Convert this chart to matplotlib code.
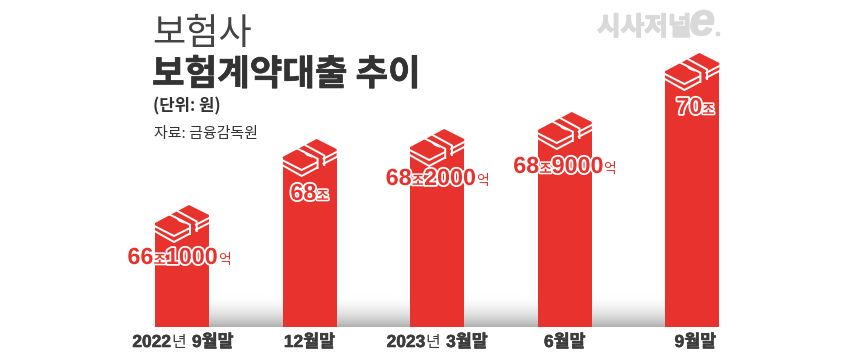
#!/usr/bin/env python3
"""Insurance policy loan balance by quarter, drawn as red bars with money bundles on top."""

import numpy as np
import matplotlib
matplotlib.use("Agg")
import matplotlib.pyplot as plt
import matplotlib.patheffects as pe
from matplotlib.patches import Polygon
from matplotlib.transforms import Affine2D, IdentityTransform

# Data
periods = ["2022년 9월말", "12월말", "2023년 3월말", "6월말", "9월말"]
amounts_jo = ["66", "68", "68", "68", "70"]
amounts_eok = ["1000", "", "2000", "9000", ""]
# The picture's bars are not to a linear scale, so heights are read in pixels
bar_heights = [104, 170, 180, 197, 256]

# Layout
W, H = 860, 355
BASE_Y = 327
BAR_STEP = 127.6
FIRST_X = 182
BAR_W = 54
LABEL_DROP = [35, 37, 32, 37, 37]
LABEL_NUDGE = [-3, 0, 0, 0, 3]
PERIOD_NUDGE = [1, 0, 0, 0, 3]

RED = "#E8322D"
DARK = "#3C3C3C"
KR = ["Noto Sans CJK KR", "DejaVu Sans"]
NUM = ["Liberation Sans", "Noto Sans CJK KR"]


def seg_text(fig, x, y, parts, center=False):
    """Write text pieces one after the other, x and y in picture pixels (y is the baseline)."""
    rend = fig.canvas.get_renderer()
    items = []
    for part in parts:
        color = part.get("color", DARK)
        t = fig.text(0, 0, part["s"], transform=IdentityTransform(), va="baseline",
                     family=part.get("family", NUM), fontsize=part["size"],
                     fontweight=part.get("weight", "bold"), color=color,
                     fontstyle=part.get("style", "normal"), zorder=10)
        if "stroke" in part:
            t.set_path_effects([pe.withStroke(linewidth=part["stroke"], foreground="white")])
        if "fatten" in part:
            t.set_path_effects([pe.withStroke(linewidth=part["fatten"], foreground=color)])
        items.append((t, t.get_window_extent(rend).width + part.get("gap", 0)))
    if center:
        x = x - sum(w for _, w in items) / 2
    for t, w in items:
        t.set_position((x, H - y))
        x += w


def draw_bundle(ax, left_px, top_px):
    """Money bundle on top of a bar; shape is in pixels from the bar's top left corner."""
    tr = Affine2D().translate(left_px, top_px)
    ax.add_patch(Polygon([(0, 0), (34, 18), (54, 8), (54, -1), (0, -1)], closed=True,
                         fc=RED, ec="none", transform=tr, zorder=4))
    lines = [
        [(0, -3.3), (19, -13), (34, -5.5)],
        [(0, -8.3), (19, -19), (34, -11)],
        [(41, -1.7), (54, 5)],
        [(41, -6.7), (54, 0)],
        [(15, 8.3), (35, -1.7), (35, -11)],
        [(23, 11.7), (41.7, 1.5), (41.7, -8)],
    ]
    for pts in lines:
        xs, ys = zip(*pts)
        ax.plot(xs, ys, color="white", lw=1.4, solid_joinstyle="miter",
                transform=tr, zorder=5)
    ax.add_patch(Polygon([(16, 7), (21, 4.5), (24, 1.5), (30, -1), (26, 3.5), (20, 6.5)],
                         closed=True, fc="white", ec="none", transform=tr, zorder=5))


def main():
    fig = plt.figure(figsize=(W / 100, H / 100), dpi=100)
    ax = fig.add_axes([0, 0, 1, 1])
    ax.axis("off")

    xpos = np.arange(len(bar_heights))

    # grey floor shadow between the first and last bar
    shade = np.linspace(0, 1, 64).reshape(-1, 1) ** 2
    ax.imshow(shade, extent=(0, xpos[-1], 0, 34), aspect="auto", origin="upper",
              cmap=matplotlib.colors.LinearSegmentedColormap.from_list("s", ["#FFFFFF", "#B0B0B0"]),
              zorder=1)

    ax.bar(xpos, bar_heights, width=BAR_W / BAR_STEP, color=RED, zorder=3)
    ax.set_xlim(-FIRST_X / BAR_STEP, (W - FIRST_X) / BAR_STEP)
    ax.set_ylim(BASE_Y - H, BASE_Y)

    for i, h in enumerate(bar_heights):
        px, py = ax.transData.transform((xpos[i], h))
        draw_bundle(ax, px - BAR_W / 2, py)

        parts = [
            dict(s=amounts_jo[i], size=16.8, color=RED, stroke=2.6),
            dict(s="조", size=9.5, color=RED, stroke=2.2, family=KR, gap=0),
        ]
        if amounts_eok[i]:
            parts.append(dict(s=amounts_eok[i], size=16.8, color=RED, stroke=2.6))
            parts.append(dict(s="억", size=10, color=RED, family=KR, weight="regular"))
        seg_text(fig, px + LABEL_NUDGE[i], H - py + LABEL_DROP[i] + 6, parts, center=True)

        # period label, the 년 is set lighter
        if "년" in periods[i]:
            year, month = periods[i].split("년 ")
            label = [dict(s=year, size=12.5, fatten=0.4), dict(s="년", size=11.5, family=KR, weight="regular", gap=6),
                     dict(s=month, size=12.5, fatten=0.4)]
        else:
            label = [dict(s=periods[i], size=12.5, fatten=0.4)]
        seg_text(fig, px + PERIOD_NUDGE[i], 347, label, center=True)

    # titles
    seg_text(fig, 152, 44, [dict(s="보험사", size=26, family=KR, weight="regular", color="#444444")])
    seg_text(fig, 152, 85, [dict(s="보험계약대출 추이", size=25.5, family=KR, weight="bold", color="#333333", fatten=0.5)])
    seg_text(fig, 153, 111, [dict(s="(단위: 원)", size=12, family=KR, weight="bold", color="#333333")])
    seg_text(fig, 154, 138, [dict(s="자료: 금융감독원", size=10.8, family=KR, weight="regular", color="#333333")])

    # logo
    seg_text(fig, 597, 35, [
        dict(s="시사저널", size=18.5, family=KR, weight="bold", color="#D9D9D9", gap=-2, fatten=1),
        dict(s="e", size=33, family=["Liberation Sans"], style="italic", color="#D9D9D9", gap=-1, fatten=1),
        dict(s=".", size=16, family=["Liberation Sans"], color="#D9D9D9", fatten=1),
    ])

    fig.savefig("out.png", dpi=100)


if __name__ == "__main__":
    main()
